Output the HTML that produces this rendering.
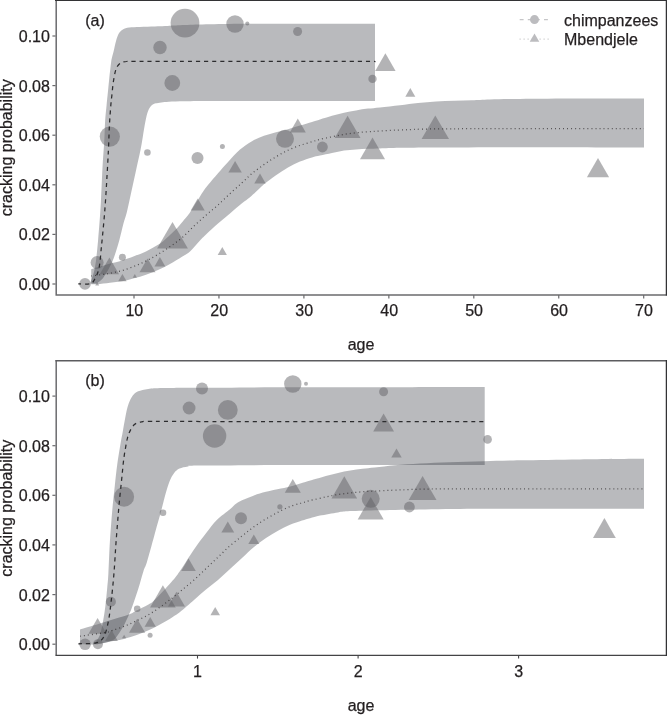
<!DOCTYPE html>
<html><head><meta charset="utf-8"><title>cracking probability</title>
<style>html,body{margin:0;padding:0;background:#fff;}body{width:667px;height:715px;position:relative;overflow:hidden;font-family:"Liberation Sans",sans-serif;}
svg text{font-family:"Liberation Sans",sans-serif;fill:#231f20;}</style></head><body>
<svg width="667" height="715" viewBox="0 0 667 715" style="display:block;position:absolute;left:0;top:0">
<rect width="667" height="715" fill="#fff"/>
<path d="M90.0,283.6 C90.3,282.8 91.0,281.0 91.8,278.7 C92.5,276.4 93.8,273.1 94.5,269.7 C95.2,266.2 95.7,262.9 96.3,258.0 C96.9,253.1 97.4,248.0 98.1,240.0 C98.8,232.0 99.9,218.2 100.4,210.0 C101.0,201.8 101.0,198.1 101.4,190.7 C101.8,183.3 102.1,173.9 102.6,165.5 C103.1,157.1 103.9,147.9 104.3,140.3 C104.7,132.7 104.8,125.9 105.2,120.0 C105.6,114.1 106.1,110.5 106.6,105.0 C107.1,99.5 108.0,91.5 108.4,87.0 C108.9,82.5 109.0,81.0 109.3,78.0 C109.6,75.0 109.9,72.0 110.3,69.0 C110.7,66.0 110.9,62.9 111.4,60.0 C112.0,57.1 112.8,54.7 113.6,51.5 C114.4,48.3 115.2,43.7 116.1,40.7 C117.0,37.7 117.7,35.4 118.8,33.5 C119.9,31.6 121.2,30.4 122.9,29.4 C124.6,28.4 126.3,28.0 129.2,27.6 C132.0,27.2 135.7,27.2 140.0,27.0 C144.3,26.8 150.8,26.6 155.0,26.5 C159.2,26.4 160.8,26.3 165.0,26.1 C169.2,25.9 167.5,25.6 180.0,25.2 C192.5,24.8 207.5,24.1 240.0,23.8 C272.5,23.6 352.5,23.7 375.0,23.7 L375.0,100.9 C352.5,100.9 272.5,100.9 240.0,100.9 C207.5,101.0 193.4,100.9 180.0,101.2 C166.6,101.5 164.3,102.1 159.7,102.7 C155.1,103.3 154.2,103.4 152.3,104.8 C150.4,106.2 149.2,108.3 148.1,111.1 C146.9,113.9 146.3,117.4 145.4,121.6 C144.5,125.8 143.7,131.6 142.9,136.3 C142.1,141.0 141.7,144.2 140.5,150.0 C139.3,155.8 137.4,164.0 135.9,171.0 C134.4,178.0 132.8,185.2 131.3,192.0 C129.8,198.8 128.2,206.6 126.9,212.0 C125.6,217.4 124.4,219.9 123.2,224.4 C122.0,228.9 120.9,234.2 119.7,238.8 C118.5,243.4 117.0,248.2 115.8,252.0 C114.6,255.8 113.5,259.0 112.4,261.6 C111.3,264.2 110.3,265.9 109.3,267.8 C108.3,269.8 107.5,271.3 106.2,273.3 C104.9,275.3 103.4,277.9 101.7,279.6 C100.0,281.3 97.2,282.9 96.3,283.6 Z" fill="rgb(22,25,38)" fill-opacity="0.30"/>
<path d="M91.2,269.2 C92.7,268.8 96.3,267.7 100.0,266.6 C103.7,265.5 109.9,263.8 113.6,262.8 C117.3,261.8 118.6,261.5 122.0,260.4 C125.4,259.3 130.0,257.7 134.0,256.2 C138.0,254.7 142.0,253.3 146.0,251.4 C150.0,249.5 155.0,246.6 158.0,244.8 C161.0,243.0 160.8,243.3 164.0,240.5 C167.2,237.7 173.8,231.5 177.2,228.0 C180.6,224.5 182.2,222.2 184.3,219.6 C186.4,217.0 187.4,216.2 190.0,212.4 C192.6,208.6 197.3,200.6 200.0,196.5 C202.7,192.4 203.0,191.5 206.0,187.6 C209.0,183.7 214.4,177.4 218.0,173.2 C221.6,169.0 223.9,166.3 227.6,162.4 C231.3,158.5 235.9,153.1 240.0,149.6 C244.1,146.1 248.0,143.5 252.0,141.2 C256.0,138.9 260.0,137.3 264.0,135.8 C268.0,134.3 272.0,133.3 276.0,132.2 C280.0,131.1 284.0,130.3 288.0,129.2 C292.0,128.1 296.0,126.8 300.0,125.6 C304.0,124.4 308.7,123.0 312.0,122.0 C315.3,121.0 316.7,120.5 320.0,119.5 C323.3,118.5 328.0,116.9 332.0,115.8 C336.0,114.7 340.0,113.7 344.0,112.8 C348.0,111.9 352.0,111.1 356.0,110.4 C360.0,109.7 364.0,109.1 368.0,108.6 C372.0,108.1 374.7,108.0 380.0,107.4 C385.3,106.9 393.7,106.0 400.0,105.3 C406.3,104.6 412.0,103.6 418.0,103.0 C424.0,102.4 430.0,102.0 436.0,101.6 C442.0,101.2 448.0,100.9 454.0,100.7 C460.0,100.5 466.0,100.4 472.0,100.2 C478.0,100.0 482.0,99.6 490.0,99.4 C498.0,99.2 505.0,99.0 520.0,98.9 C535.0,98.8 559.3,98.7 580.0,98.6 C600.7,98.5 633.3,98.4 644.0,98.4 L644.0,147.5 C623.3,147.4 554.7,147.2 520.0,147.2 C485.3,147.2 456.0,147.4 436.0,147.5 C416.0,147.6 409.3,147.7 400.0,147.8 C390.7,148.0 385.3,148.2 380.0,148.4 C374.7,148.6 372.0,148.6 368.0,148.8 C364.0,149.0 360.0,149.1 356.0,149.4 C352.0,149.7 348.0,150.0 344.0,150.6 C340.0,151.2 336.0,152.2 332.0,153.0 C328.0,153.8 323.3,154.8 320.0,155.5 C316.7,156.2 315.3,156.4 312.0,157.4 C308.7,158.4 304.0,159.9 300.0,161.6 C296.0,163.3 292.0,165.3 288.0,167.6 C284.0,169.9 280.0,172.5 276.0,175.3 C272.0,178.1 266.8,182.1 264.0,184.3 C261.2,186.6 261.5,186.7 259.2,188.8 C256.9,191.0 252.9,194.8 250.0,197.2 C247.1,199.6 245.3,200.5 242.0,203.2 C238.7,205.9 234.0,210.0 230.0,213.4 C226.0,216.8 222.0,220.0 218.0,223.5 C214.0,227.0 209.0,231.7 206.0,234.5 C203.0,237.3 202.7,237.7 200.0,240.5 C197.3,243.3 193.0,248.7 190.0,251.4 C187.0,254.1 185.3,254.7 182.0,256.8 C178.7,258.9 174.0,261.8 170.0,264.0 C166.0,266.2 162.0,268.2 158.0,270.0 C154.0,271.8 150.0,273.3 146.0,274.7 C142.0,276.1 138.0,277.2 134.0,278.3 C130.0,279.4 126.0,280.6 122.0,281.3 C118.0,282.0 114.1,282.2 110.0,282.7 C105.9,283.2 100.4,283.9 97.3,284.2 C94.2,284.4 92.2,284.2 91.2,284.2 Z" fill="rgb(22,25,38)" fill-opacity="0.30"/>
<circle cx="185.0" cy="23.1" r="14.4" fill="#5e5e61" fill-opacity="0.47"/>
<circle cx="235.0" cy="24.0" r="8.7" fill="#5e5e61" fill-opacity="0.47"/>
<circle cx="247.3" cy="23.4" r="2.0" fill="#5e5e61" fill-opacity="0.47"/>
<circle cx="160.0" cy="47.5" r="6.7" fill="#5e5e61" fill-opacity="0.47"/>
<circle cx="172.3" cy="83.0" r="7.9" fill="#5e5e61" fill-opacity="0.47"/>
<circle cx="109.8" cy="136.6" r="10.1" fill="#5e5e61" fill-opacity="0.47"/>
<circle cx="297.6" cy="31.5" r="4.5" fill="#5e5e61" fill-opacity="0.47"/>
<circle cx="372.5" cy="78.9" r="4.2" fill="#5e5e61" fill-opacity="0.47"/>
<circle cx="147.4" cy="152.5" r="3.3" fill="#5e5e61" fill-opacity="0.47"/>
<circle cx="197.5" cy="157.9" r="6.0" fill="#5e5e61" fill-opacity="0.47"/>
<circle cx="222.4" cy="146.5" r="2.5" fill="#5e5e61" fill-opacity="0.47"/>
<circle cx="285.0" cy="138.8" r="9.0" fill="#5e5e61" fill-opacity="0.47"/>
<circle cx="322.4" cy="147.0" r="5.4" fill="#5e5e61" fill-opacity="0.47"/>
<circle cx="122.4" cy="257.2" r="3.5" fill="#5e5e61" fill-opacity="0.47"/>
<circle cx="97.1" cy="262.5" r="6.5" fill="#5e5e61" fill-opacity="0.47"/>
<circle cx="85.0" cy="283.9" r="5.8" fill="#5e5e61" fill-opacity="0.47"/>
<polygon points="385.4,53.3 395.6,71.0 375.2,71.0" fill="#5e5e61" fill-opacity="0.47"/>
<polygon points="410.3,88.1 415.3,96.7 405.3,96.7" fill="#5e5e61" fill-opacity="0.47"/>
<polygon points="297.8,118.6 305.8,132.4 289.8,132.4" fill="#5e5e61" fill-opacity="0.47"/>
<polygon points="347.6,115.8 360.5,138.1 334.7,138.1" fill="#5e5e61" fill-opacity="0.47"/>
<polygon points="435.3,115.4 449.0,139.1 421.6,139.1" fill="#5e5e61" fill-opacity="0.47"/>
<polygon points="372.5,137.5 385.0,159.2 360.0,159.2" fill="#5e5e61" fill-opacity="0.47"/>
<polygon points="260.0,173.5 265.7,183.4 254.3,183.4" fill="#5e5e61" fill-opacity="0.47"/>
<polygon points="235.1,160.9 241.8,172.5 228.4,172.5" fill="#5e5e61" fill-opacity="0.47"/>
<polygon points="197.7,198.4 204.7,210.6 190.7,210.6" fill="#5e5e61" fill-opacity="0.47"/>
<polygon points="172.5,222.0 187.9,248.6 157.1,248.6" fill="#5e5e61" fill-opacity="0.47"/>
<polygon points="222.3,246.9 226.9,254.9 217.7,254.9" fill="#5e5e61" fill-opacity="0.47"/>
<polygon points="159.9,257.1 165.3,266.4 154.5,266.4" fill="#5e5e61" fill-opacity="0.47"/>
<polygon points="147.5,258.4 155.5,272.2 139.5,272.2" fill="#5e5e61" fill-opacity="0.47"/>
<polygon points="122.4,274.1 126.6,281.3 118.2,281.3" fill="#5e5e61" fill-opacity="0.47"/>
<polygon points="134.8,274.1 136.9,277.8 132.7,277.8" fill="#5e5e61" fill-opacity="0.47"/>
<polygon points="109.4,257.5 119.0,274.2 99.8,274.2" fill="#5e5e61" fill-opacity="0.47"/>
<polygon points="598.0,158.0 609.1,177.3 586.9,177.3" fill="#5e5e61" fill-opacity="0.47"/>
<polygon points="97.2,282.0 99.2,285.5 95.2,285.5" fill="#5e5e61" fill-opacity="0.47"/>
<path d="M78.3,283.9 C80.2,283.9 87.3,284.5 90.0,283.8 C92.7,283.1 93.2,281.7 94.5,279.6 C95.8,277.6 97.2,274.4 98.1,271.5 C99.0,268.6 99.4,266.2 99.9,262.5 C100.4,258.8 100.8,252.8 101.2,249.0 C101.6,245.2 101.5,246.0 102.1,240.0 C102.7,234.0 103.8,222.7 104.6,212.9 C105.4,203.1 106.1,191.9 106.7,181.4 C107.3,170.9 108.0,159.3 108.4,150.0 C108.9,140.7 109.0,133.2 109.4,125.8 C109.8,118.4 110.4,110.5 110.8,105.5 C111.2,100.5 111.4,99.4 111.8,96.0 C112.2,92.6 112.5,88.5 112.9,85.2 C113.3,81.9 113.8,78.9 114.3,76.2 C114.8,73.5 115.4,70.9 116.1,69.0 C116.8,67.1 117.4,66.1 118.4,65.0 C119.4,63.9 120.7,62.9 122.0,62.3 C123.3,61.7 124.3,61.6 126.5,61.5 C128.7,61.3 126.1,61.4 135.0,61.4 C143.9,61.4 139.9,61.4 180.0,61.4 C220.1,61.4 342.9,61.5 375.5,61.5" fill="none" stroke="#2c2c2e" stroke-width="1.25" stroke-dasharray="4.1 3.98" stroke-dashoffset="1.3"/>
<path d="M91.2,276.0 C93.2,275.7 100.4,274.9 103.5,274.4 C106.6,273.9 106.9,273.8 110.0,273.2 C113.1,272.6 118.0,271.7 122.0,270.6 C126.0,269.5 130.0,268.0 134.0,266.4 C138.0,264.8 142.0,263.0 146.0,261.0 C150.0,259.0 154.0,256.8 158.0,254.4 C162.0,252.0 166.0,249.4 170.0,246.6 C174.0,243.8 178.0,241.2 182.0,237.8 C186.0,234.4 190.0,229.8 194.0,226.0 C198.0,222.2 202.0,218.7 206.0,215.2 C210.0,211.7 214.0,208.6 218.0,205.0 C222.0,201.4 226.0,197.3 230.0,193.6 C234.0,189.9 238.3,186.2 242.0,182.8 C245.7,179.5 248.3,176.5 252.0,173.5 C255.7,170.5 260.0,167.4 264.0,164.6 C268.0,161.8 272.0,159.2 276.0,156.8 C280.0,154.4 284.0,152.1 288.0,150.2 C292.0,148.3 296.0,146.8 300.0,145.4 C304.0,144.0 308.7,142.8 312.0,141.8 C315.3,140.8 316.7,140.1 320.0,139.3 C323.3,138.5 328.0,137.6 332.0,136.8 C336.0,136.0 340.0,135.1 344.0,134.4 C348.0,133.7 352.0,133.2 356.0,132.8 C360.0,132.4 364.0,132.0 368.0,131.7 C372.0,131.4 374.7,131.3 380.0,131.0 C385.3,130.7 390.7,130.3 400.0,130.0 C409.3,129.7 416.0,129.1 436.0,128.9 C456.0,128.7 485.3,128.7 520.0,128.7 C554.7,128.7 623.3,128.7 644.0,128.7" fill="none" stroke="#231f20" stroke-opacity="0.72" stroke-width="1.25" stroke-dasharray="0.9 3.13"/>
<path d="M93.0,643.8 C93.5,643.3 95.0,642.5 96.2,641.0 C97.4,639.5 98.9,638.0 100.0,634.8 C101.1,631.6 102.1,626.4 103.0,621.6 C103.9,616.8 104.7,611.6 105.4,606.0 C106.1,600.4 106.7,593.5 107.2,588.0 C107.7,582.5 108.0,580.7 108.4,572.9 C108.9,565.1 109.2,551.9 109.9,541.4 C110.6,530.9 111.5,519.3 112.3,510.0 C113.1,500.7 114.0,493.3 114.8,485.8 C115.6,478.3 116.3,471.6 117.2,464.8 C118.1,458.0 119.4,450.6 120.3,445.0 C121.2,439.4 122.0,436.0 122.8,431.5 C123.6,427.0 124.4,422.1 125.2,418.0 C126.0,413.9 126.6,410.3 127.5,407.2 C128.4,404.1 129.5,401.4 130.5,399.3 C131.5,397.2 132.4,395.8 133.7,394.4 C135.0,393.0 135.8,392.1 138.2,391.2 C140.6,390.3 144.1,389.4 148.2,388.9 C152.3,388.4 154.3,388.3 162.9,388.1 C171.5,387.9 177.2,387.9 200.0,387.8 C222.8,387.7 252.6,387.4 300.0,387.3 C347.4,387.2 453.9,387.1 484.7,387.0 L484.7,464.9 C453.9,464.9 347.4,464.9 300.0,465.0 C252.6,465.1 218.7,465.4 200.0,465.6 C181.3,465.9 191.4,466.0 188.0,466.5 C184.6,467.0 181.8,467.5 179.5,468.6 C177.2,469.7 175.7,471.0 174.0,473.2 C172.3,475.4 171.0,477.8 169.5,481.6 C168.0,485.5 166.2,491.6 164.9,496.3 C163.6,501.0 163.2,503.5 161.4,510.0 C159.7,516.5 156.8,526.5 154.4,535.2 C152.0,543.9 148.6,556.6 146.8,562.4 C145.0,568.2 145.0,566.3 143.8,570.0 C142.6,573.7 141.0,579.8 139.6,584.4 C138.2,589.0 136.8,593.4 135.4,597.6 C134.0,601.8 132.3,606.7 131.2,609.6 C130.1,612.5 130.0,612.4 128.8,615.0 C127.6,617.6 125.8,621.9 124.0,625.2 C122.2,628.5 119.8,632.3 118.0,634.8 C116.2,637.3 115.3,638.8 113.2,640.1 C111.1,641.4 108.2,641.9 105.6,642.6 C102.9,643.3 98.7,643.9 97.3,644.2 Z" fill="rgb(22,25,38)" fill-opacity="0.30"/>
<path d="M80.0,629.4 C83.3,628.4 91.9,625.9 100.0,623.4 C108.1,620.9 122.8,616.5 128.8,614.4 C134.8,612.3 132.8,612.4 136.0,610.8 C139.2,609.2 145.0,606.5 148.0,604.8 C151.0,603.1 150.2,604.3 154.0,600.6 C157.8,596.9 166.7,587.4 171.0,582.5 C175.3,577.6 176.2,576.5 180.0,571.0 C183.8,565.5 189.7,555.8 194.0,549.5 C198.3,543.2 202.2,538.1 206.0,533.2 C209.8,528.3 212.8,524.0 216.8,520.0 C220.8,516.0 226.8,511.9 230.0,509.2 C233.2,506.5 234.0,505.3 236.0,503.8 C238.0,502.3 239.0,501.6 242.0,500.2 C245.0,498.8 250.0,496.8 254.0,495.4 C258.0,494.0 261.5,492.9 266.0,491.8 C270.5,490.7 276.4,489.6 280.9,488.6 C285.4,487.6 289.0,486.8 293.1,485.7 C297.2,484.6 302.0,483.1 305.4,482.1 C308.8,481.1 310.1,480.7 313.5,479.6 C316.9,478.6 321.7,477.1 325.8,475.9 C329.9,474.8 334.0,473.9 338.0,472.9 C342.1,472.0 346.2,471.2 350.3,470.5 C354.4,469.8 358.5,469.2 362.5,468.8 C366.6,468.2 369.4,468.1 374.8,467.5 C380.2,467.0 387.5,466.0 395.0,465.3 C402.5,464.6 410.8,464.1 420.0,463.6 C429.2,463.1 439.3,462.7 450.0,462.3 C460.7,461.9 472.3,461.5 484.0,461.2 C495.7,460.9 504.0,460.6 520.0,460.3 C536.0,460.0 559.3,459.6 580.0,459.4 C600.7,459.1 633.3,458.9 644.0,458.8 L644.0,508.7 C623.3,508.7 547.3,508.7 520.0,508.7 C492.7,508.7 495.8,508.7 480.0,508.8 C464.2,508.9 441.7,509.2 425.0,509.4 C408.3,509.6 392.5,509.9 380.0,510.2 C367.5,510.5 357.0,510.7 350.0,511.1 C343.0,511.5 343.0,511.6 338.0,512.4 C333.0,513.1 324.7,514.6 320.0,515.6 C315.3,516.6 313.0,517.4 310.0,518.2 C307.0,519.0 305.3,519.5 302.0,520.6 C298.7,521.7 294.0,523.1 290.0,524.8 C286.0,526.5 282.0,528.6 278.0,530.8 C274.0,533.0 270.0,535.3 266.0,538.0 C262.0,540.7 258.0,543.7 254.0,547.0 C250.0,550.3 246.0,554.3 242.0,558.0 C238.0,561.7 234.0,565.3 230.0,569.0 C226.0,572.7 222.0,576.6 218.0,580.0 C214.0,583.4 210.0,586.2 206.0,589.5 C202.0,592.8 198.3,596.2 194.0,600.0 C189.7,603.8 183.7,609.1 180.0,612.0 C176.3,614.9 175.3,615.3 172.0,617.4 C168.7,619.5 164.0,622.3 160.0,624.5 C156.0,626.7 152.0,628.7 148.0,630.5 C144.0,632.3 140.0,633.9 136.0,635.3 C132.0,636.7 127.6,638.0 124.0,638.9 C120.4,639.8 118.9,639.8 114.4,640.7 C110.0,641.6 103.0,643.6 97.3,644.2 C91.6,644.8 82.9,644.3 80.0,644.3 Z" fill="rgb(22,25,38)" fill-opacity="0.30"/>
<circle cx="202.0" cy="388.6" r="6.0" fill="#5e5e61" fill-opacity="0.47"/>
<circle cx="189.1" cy="408.0" r="6.4" fill="#5e5e61" fill-opacity="0.47"/>
<circle cx="227.8" cy="409.9" r="9.9" fill="#5e5e61" fill-opacity="0.47"/>
<circle cx="214.6" cy="436.0" r="11.7" fill="#5e5e61" fill-opacity="0.47"/>
<circle cx="124.1" cy="496.8" r="10.0" fill="#5e5e61" fill-opacity="0.47"/>
<circle cx="292.8" cy="384.0" r="8.7" fill="#5e5e61" fill-opacity="0.47"/>
<circle cx="306.0" cy="383.7" r="2.0" fill="#5e5e61" fill-opacity="0.47"/>
<circle cx="383.6" cy="391.8" r="4.5" fill="#5e5e61" fill-opacity="0.47"/>
<circle cx="487.6" cy="439.4" r="4.3" fill="#5e5e61" fill-opacity="0.47"/>
<circle cx="163.0" cy="512.7" r="3.3" fill="#5e5e61" fill-opacity="0.47"/>
<circle cx="241.0" cy="518.3" r="6.0" fill="#5e5e61" fill-opacity="0.47"/>
<circle cx="370.7" cy="498.8" r="9.0" fill="#5e5e61" fill-opacity="0.47"/>
<circle cx="409.4" cy="507.0" r="5.4" fill="#5e5e61" fill-opacity="0.47"/>
<circle cx="279.9" cy="506.8" r="2.6" fill="#5e5e61" fill-opacity="0.47"/>
<circle cx="110.9" cy="601.8" r="5.0" fill="#5e5e61" fill-opacity="0.47"/>
<circle cx="137.2" cy="608.7" r="3.3" fill="#5e5e61" fill-opacity="0.47"/>
<circle cx="150.1" cy="635.3" r="2.5" fill="#5e5e61" fill-opacity="0.47"/>
<circle cx="85.1" cy="644.3" r="5.8" fill="#5e5e61" fill-opacity="0.47"/>
<circle cx="97.9" cy="644.3" r="5.0" fill="#5e5e61" fill-opacity="0.47"/>
<polygon points="383.6,413.4 394.0,431.4 373.2,431.4" fill="#5e5e61" fill-opacity="0.47"/>
<polygon points="396.5,448.5 401.7,457.5 391.3,457.5" fill="#5e5e61" fill-opacity="0.47"/>
<polygon points="292.8,479.0 300.8,492.8 284.8,492.8" fill="#5e5e61" fill-opacity="0.47"/>
<polygon points="344.3,476.3 357.1,498.5 331.5,498.5" fill="#5e5e61" fill-opacity="0.47"/>
<polygon points="422.6,476.0 436.5,500.0 408.7,500.0" fill="#5e5e61" fill-opacity="0.47"/>
<polygon points="370.7,497.0 383.7,519.5 357.7,519.5" fill="#5e5e61" fill-opacity="0.47"/>
<polygon points="253.8,534.5 259.3,544.0 248.3,544.0" fill="#5e5e61" fill-opacity="0.47"/>
<polygon points="227.8,521.5 234.2,532.6 221.4,532.6" fill="#5e5e61" fill-opacity="0.47"/>
<polygon points="188.5,558.4 195.8,571.0 181.2,571.0" fill="#5e5e61" fill-opacity="0.47"/>
<polygon points="162.9,585.3 175.7,607.4 150.1,607.4" fill="#5e5e61" fill-opacity="0.47"/>
<polygon points="176.5,591.8 185.0,606.5 168.0,606.5" fill="#5e5e61" fill-opacity="0.47"/>
<polygon points="215.2,607.0 220.0,615.3 210.4,615.3" fill="#5e5e61" fill-opacity="0.47"/>
<polygon points="137.1,618.7 145.2,632.8 129.0,632.8" fill="#5e5e61" fill-opacity="0.47"/>
<polygon points="150.2,617.0 155.8,626.7 144.6,626.7" fill="#5e5e61" fill-opacity="0.47"/>
<polygon points="97.6,618.0 106.7,633.8 88.5,633.8" fill="#5e5e61" fill-opacity="0.47"/>
<polygon points="111.5,630.0 117.9,641.0 105.1,641.0" fill="#5e5e61" fill-opacity="0.47"/>
<polygon points="124.1,634.7 126.2,638.3 122.0,638.3" fill="#5e5e61" fill-opacity="0.47"/>
<polygon points="604.4,518.1 615.8,537.9 593.0,537.9" fill="#5e5e61" fill-opacity="0.47"/>
<path d="M78.4,643.8 C81.2,643.7 91.4,643.7 95.2,643.1 C99.0,642.5 99.7,641.8 101.4,640.0 C103.1,638.2 104.4,636.1 105.6,632.6 C106.8,629.1 107.8,624.4 108.8,619.0 C109.8,613.6 110.4,607.8 111.3,600.1 C112.2,592.4 113.2,582.7 114.0,572.9 C114.8,563.1 115.3,551.9 116.1,541.4 C116.9,530.9 117.8,519.3 118.6,510.0 C119.4,500.7 120.2,493.3 121.0,485.8 C121.8,478.3 122.6,469.8 123.1,464.8 C123.6,459.8 123.8,458.8 124.2,455.8 C124.6,452.8 125.2,449.8 125.7,446.8 C126.2,443.8 126.8,440.5 127.5,437.8 C128.2,435.1 129.0,432.9 130.2,430.6 C131.4,428.4 132.8,425.8 134.7,424.3 C136.6,422.8 138.9,422.3 141.5,421.8 C144.1,421.3 140.8,421.4 150.5,421.4 C160.2,421.3 144.3,421.5 200.0,421.5 C255.7,421.5 437.2,421.5 484.7,421.5" fill="none" stroke="#2c2c2e" stroke-width="1.25" stroke-dasharray="4.1 3.98" stroke-dashoffset="0.6"/>
<path d="M80.0,636.2 C84.3,635.6 100.7,633.3 106.0,632.4 C111.3,631.5 109.0,631.6 112.0,630.6 C115.0,629.6 120.0,628.0 124.0,626.4 C128.0,624.8 132.0,622.9 136.0,621.0 C140.0,619.1 144.0,617.3 148.0,615.0 C152.0,612.7 156.0,610.0 160.0,607.2 C164.0,604.4 168.3,601.1 172.0,598.2 C175.7,595.3 178.3,593.0 182.0,590.0 C185.7,587.0 190.0,583.6 194.0,580.0 C198.0,576.4 202.0,572.4 206.0,568.6 C210.0,564.8 214.0,561.0 218.0,557.2 C222.0,553.4 226.0,549.3 230.0,545.8 C234.0,542.3 238.5,538.8 242.0,536.0 C245.5,533.2 247.8,531.4 251.0,529.0 C254.2,526.6 257.8,524.0 261.2,521.8 C264.6,519.6 268.0,517.7 271.4,515.8 C274.8,513.9 278.1,512.1 281.6,510.4 C285.1,508.7 289.0,506.8 292.4,505.6 C295.8,504.4 299.2,503.8 302.0,503.0 C304.8,502.2 305.1,501.8 309.1,500.8 C313.1,499.8 321.0,498.0 325.8,496.9 C330.6,495.9 334.0,495.2 338.0,494.5 C342.1,493.9 346.2,493.4 350.3,492.9 C354.4,492.5 358.5,492.1 362.5,491.8 C366.6,491.5 369.3,491.4 374.8,491.1 C380.2,490.9 385.7,490.5 395.2,490.1 C404.7,489.8 411.5,489.3 431.9,489.0 C452.4,488.8 482.3,488.9 517.7,488.8 C553.1,488.8 623.2,488.8 644.3,488.8" fill="none" stroke="#231f20" stroke-opacity="0.72" stroke-width="1.25" stroke-dasharray="0.9 3.13"/>
<path d="M56.2,0 V294.9 H667" fill="none" stroke="#6b6b6e" stroke-width="1.5"/>
<path d="M55,0.5 H667" fill="none" stroke="#333335" stroke-width="1.2"/>
<path d="M666.4,0 V295.6" fill="none" stroke="#333335" stroke-width="1.3"/>
<path d="M56.2,360.1 V655.3" fill="none" stroke="#6b6b6e" stroke-width="1.5"/>
<path d="M55.45,360.85 H667" fill="none" stroke="#5c5c5f" stroke-width="1.5"/>
<path d="M55.45,655.3 H667" fill="none" stroke="#444446" stroke-width="1.15"/>
<path d="M666.4,360.1 V655.9" fill="none" stroke="#333335" stroke-width="1.3"/>
<path d="M52.4,36 H55.6" stroke="#6b6b6e" stroke-width="1.2"/>
<path d="M52.4,85.6 H55.6" stroke="#6b6b6e" stroke-width="1.2"/>
<path d="M52.4,135.2 H55.6" stroke="#6b6b6e" stroke-width="1.2"/>
<path d="M52.4,184.8 H55.6" stroke="#6b6b6e" stroke-width="1.2"/>
<path d="M52.4,234.4 H55.6" stroke="#6b6b6e" stroke-width="1.2"/>
<path d="M52.4,284.0 H55.6" stroke="#6b6b6e" stroke-width="1.2"/>
<path d="M52.4,396.1 H55.6" stroke="#6b6b6e" stroke-width="1.2"/>
<path d="M52.4,445.7 H55.6" stroke="#6b6b6e" stroke-width="1.2"/>
<path d="M52.4,495.3 H55.6" stroke="#6b6b6e" stroke-width="1.2"/>
<path d="M52.4,544.9 H55.6" stroke="#6b6b6e" stroke-width="1.2"/>
<path d="M52.4,594.6 H55.6" stroke="#6b6b6e" stroke-width="1.2"/>
<path d="M52.4,644.2 H55.6" stroke="#6b6b6e" stroke-width="1.2"/>
<path d="M134,295 V298.4" stroke="#6b6b6e" stroke-width="1.2"/>
<path d="M218.95,295 V298.4" stroke="#6b6b6e" stroke-width="1.2"/>
<path d="M303.9,295 V298.4" stroke="#6b6b6e" stroke-width="1.2"/>
<path d="M388.85,295 V298.4" stroke="#6b6b6e" stroke-width="1.2"/>
<path d="M473.8,295 V298.4" stroke="#6b6b6e" stroke-width="1.2"/>
<path d="M558.75,295 V298.4" stroke="#6b6b6e" stroke-width="1.2"/>
<path d="M643.7,295 V298.4" stroke="#6b6b6e" stroke-width="1.2"/>
<path d="M197.5,655.3 V658.6" stroke="#444446" stroke-width="1.1"/>
<path d="M358.1,655.3 V658.6" stroke="#444446" stroke-width="1.1"/>
<path d="M518.6,655.3 V658.6" stroke="#444446" stroke-width="1.1"/>
<text x="49.9" y="42" font-size="16" text-anchor="end" stroke="#231f20" stroke-width="0.25">0.10</text>
<text x="49.9" y="92" font-size="16" text-anchor="end" stroke="#231f20" stroke-width="0.25">0.08</text>
<text x="49.9" y="141" font-size="16" text-anchor="end" stroke="#231f20" stroke-width="0.25">0.06</text>
<text x="49.9" y="191" font-size="16" text-anchor="end" stroke="#231f20" stroke-width="0.25">0.04</text>
<text x="49.9" y="240" font-size="16" text-anchor="end" stroke="#231f20" stroke-width="0.25">0.02</text>
<text x="49.9" y="290" font-size="16" text-anchor="end" stroke="#231f20" stroke-width="0.25">0.00</text>
<text x="49.9" y="402" font-size="16" text-anchor="end" stroke="#231f20" stroke-width="0.25">0.10</text>
<text x="49.9" y="452" font-size="16" text-anchor="end" stroke="#231f20" stroke-width="0.25">0.08</text>
<text x="49.9" y="501" font-size="16" text-anchor="end" stroke="#231f20" stroke-width="0.25">0.06</text>
<text x="49.9" y="551" font-size="16" text-anchor="end" stroke="#231f20" stroke-width="0.25">0.04</text>
<text x="49.9" y="601" font-size="16" text-anchor="end" stroke="#231f20" stroke-width="0.25">0.02</text>
<text x="49.9" y="650" font-size="16" text-anchor="end" stroke="#231f20" stroke-width="0.25">0.00</text>
<text x="134.3" y="316" font-size="16" text-anchor="middle" stroke="#231f20" stroke-width="0.25">10</text>
<text x="219.25" y="316" font-size="16" text-anchor="middle" stroke="#231f20" stroke-width="0.25">20</text>
<text x="304.2" y="316" font-size="16" text-anchor="middle" stroke="#231f20" stroke-width="0.25">30</text>
<text x="389.15000000000003" y="316" font-size="16" text-anchor="middle" stroke="#231f20" stroke-width="0.25">40</text>
<text x="474.1" y="316" font-size="16" text-anchor="middle" stroke="#231f20" stroke-width="0.25">50</text>
<text x="559.05" y="316" font-size="16" text-anchor="middle" stroke="#231f20" stroke-width="0.25">60</text>
<text x="644.0" y="316" font-size="16" text-anchor="middle" stroke="#231f20" stroke-width="0.25">70</text>
<text x="197.5" y="677" font-size="16" text-anchor="middle" stroke="#231f20" stroke-width="0.25">1</text>
<text x="358.1" y="677" font-size="16" text-anchor="middle" stroke="#231f20" stroke-width="0.25">2</text>
<text x="518.6" y="677" font-size="16" text-anchor="middle" stroke="#231f20" stroke-width="0.25">3</text>
<text x="361" y="350" font-size="16" text-anchor="middle" stroke="#231f20" stroke-width="0.25">age</text>
<text x="361" y="711" font-size="16" text-anchor="middle" stroke="#231f20" stroke-width="0.25">age</text>
<text transform="translate(11.7,147.8) rotate(-90)" font-size="16" text-anchor="middle" stroke="#231f20" stroke-width="0.25">cracking probability</text>
<text transform="translate(11.7,508.2) rotate(-90)" font-size="16" text-anchor="middle" stroke="#231f20" stroke-width="0.25">cracking probability</text>
<text x="85.2" y="26" font-size="16" stroke="#231f20" stroke-width="0.25">(a)</text>
<text x="85.2" y="386" font-size="16" stroke="#231f20" stroke-width="0.25">(b)</text>
<path d="M519.7,19.6 H548" stroke="#c6c6c8" stroke-width="1.3" stroke-dasharray="3.9 4.2" fill="none"/>
<circle cx="534.5" cy="19.6" r="4.5" fill="#bcbcbf"/>
<path d="M519.6,39.2 H549" stroke="#c2c2c4" stroke-width="1.2" stroke-dasharray="1 3" fill="none"/>
<polygon points="534.5,33.5 539.3,41.8 529.7,41.8" fill="#bcbcbf"/>
<text x="564" y="26" font-size="16" stroke="#231f20" stroke-width="0.25">chimpanzees</text>
<text x="564" y="45" font-size="16" stroke="#231f20" stroke-width="0.25">Mbendjele</text>
</svg>
</body></html>
